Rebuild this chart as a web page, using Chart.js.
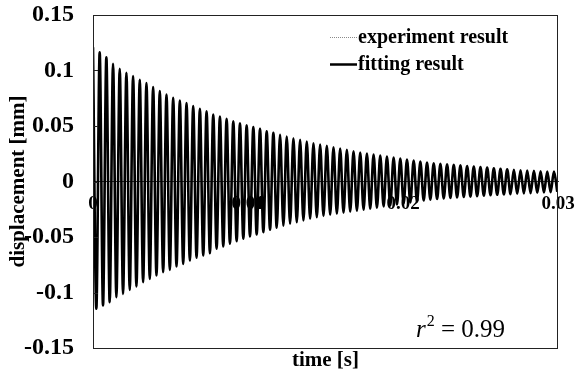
<!DOCTYPE html>
<html>
<head>
<meta charset="utf-8">
<script src="https://cdn.jsdelivr.net/npm/chart.js@4"></script>
<style>
  html, body { margin:0; padding:0; background:#ffffff; }
</style>
</head>
<body>
<canvas id="vibChart" width="575" height="372"></canvas>
<script>
// =========================
// DATA
// =========================
// positive peak of each cycle [mm]
const peakHigh = [
  0.121, 0.1165, 0.112, 0.106, 0.1015, 0.098, 0.095, 0.0916, 0.0886, 0.085,
  0.0814, 0.0784, 0.0754, 0.073, 0.0706, 0.068, 0.0655, 0.0633, 0.0604, 0.0586,
  0.0565, 0.0543, 0.0525, 0.0507, 0.049, 0.0475, 0.0453, 0.0439, 0.0421, 0.0405,
  0.039, 0.0376, 0.036, 0.0345, 0.0333, 0.0322, 0.0309, 0.0297, 0.0286, 0.0273,
  0.0261, 0.0252, 0.0243, 0.0234, 0.0225, 0.0216, 0.0207, 0.0198, 0.0189, 0.018,
  0.0171, 0.0165, 0.016, 0.0155, 0.015, 0.0145, 0.014, 0.0135, 0.013, 0.0125,
  0.012, 0.0115, 0.011, 0.0105, 0.0102, 0.0099, 0.0096, 0.0093, 0.009, 0.009
];
// negative peak of each cycle [mm]
const peakLow = [
  -0.1147, -0.1117, -0.1087, -0.1042, -0.1012, -0.0976, -0.0946, -0.0907, -0.0877, -0.0847,
  -0.0817, -0.0796, -0.0766, -0.0742, -0.0712, -0.0687, -0.0667, -0.0646, -0.0606, -0.0586,
  -0.0561, -0.0538, -0.0516, -0.0495, -0.0477, -0.0457, -0.0435, -0.0417, -0.0399, -0.0381,
  -0.0367, -0.0351, -0.0336, -0.0322, -0.031, -0.03, -0.029, -0.0281, -0.0272, -0.0263,
  -0.0254, -0.0245, -0.0236, -0.0225, -0.0216, -0.0207, -0.0198, -0.0189, -0.018, -0.0171,
  -0.0164, -0.0158, -0.0153, -0.0148, -0.0144, -0.014, -0.0136, -0.0132, -0.0128, -0.0124,
  -0.012, -0.0117, -0.0114, -0.0111, -0.0108, -0.0105, -0.0102, -0.0099, -0.0096, -0.0093
];
// oscillation period measured from the peak spacing [s]
const period = 0.000431;

const xTicks = [0, 0.01, 0.02, 0.03];
const yTicks = [-0.15, -0.1, -0.05, 0, 0.05, 0.1, 0.15];
const rSquared = '0.99';

// peaks at the start of each cycle, troughs half a period later
function buildSeries(hi, lo) {
  const pts = [];
  hi.forEach((v, k) => {
    pts.push({ x: k * period, y: v });
    pts.push({ x: (k + 0.5) * period, y: lo[k] });
  });
  return pts;
}

// =========================
// GLOBAL STYLE
// =========================
Chart.defaults.font.family = "'Liberation Serif', 'Times New Roman', serif";
Chart.defaults.color = '#000000';

const FONT_XTICK = { size: 19, weight: 'bold' };
const FONT_YTICK = { size: 24, weight: 'bold' };
const FONT_TITLE = { size: 21, weight: 'bold', lineHeight: 1 };
const fmt = v => String(Math.round(v * 100) / 100);

// frame round the plot + inward ticks on the left axis
const framePlugin = {
  id: 'frame',
  afterDraw(chart) {
    const { ctx, chartArea: a, scales } = chart;
    ctx.save();
    ctx.strokeStyle = '#222';
    ctx.lineWidth = 1;
    ctx.strokeRect(Math.round(a.left) + 0.5, Math.round(a.top) + 0.5,
                   Math.round(a.width) - 1, Math.round(a.height));
    scales.y.ticks.forEach(t => {
      const py = Math.round(scales.y.getPixelForValue(t.value)) + 0.5;
      ctx.beginPath();
      ctx.moveTo(a.left, py);
      ctx.lineTo(a.left + 5, py);
      ctx.stroke();
    });
    ctx.restore();
  }
};

// legend in the top right corner + r^2 note
const notePlugin = {
  id: 'notes',
  afterDraw(chart) {
    const { ctx, chartArea: a } = chart;
    const ds = chart.data.datasets;
    ctx.save();
    ctx.font = 'bold 20px "Liberation Serif"';
    ctx.textBaseline = 'middle';
    ctx.fillStyle = '#000';
    const rows = [a.top + 22, a.top + 49];
    ds.forEach((d, i) => {
      const y = rows[i];
      ctx.beginPath();
      ctx.strokeStyle = d.borderColor;
      ctx.lineWidth = i === 0 ? 1 : 2.5;
      ctx.setLineDash(i === 0 ? [1, 1] : []);
      ctx.moveTo(a.left + 237, y + 0.5);
      ctx.lineTo(a.left + 264, y + 0.5);
      ctx.stroke();
      ctx.setLineDash([]);
      ctx.fillText(d.label, a.left + 265, y + 1);
    });

    // r^2 = 0.99
    const bx = a.left + 323, by = a.bottom - 11;
    ctx.textBaseline = 'alphabetic';
    ctx.font = 'italic 25px "Liberation Serif"';
    ctx.fillText('r', bx, by);
    let x = bx + ctx.measureText('r').width + 1;
    ctx.font = '16px "Liberation Serif"';
    ctx.fillText('2', x, by - 11);
    x += ctx.measureText('2').width;
    ctx.font = '25px "Liberation Serif"';
    ctx.fillText(' = ' + rSquared, x, by);
    ctx.restore();
  }
};

// =========================
// DAMPED VIBRATION
// =========================
const vibCtx = document.getElementById('vibChart');

new Chart(vibCtx, {
  type: 'line',
  data: {
    datasets: [
      {
        label: 'experiment result',
        data: buildSeries(peakHigh, peakLow),
        borderColor: '#8a8a8a',
        borderWidth: 1,
        pointRadius: 0,
        cubicInterpolationMode: 'monotone',
        order: 1
      },
      {
        label: 'fitting result',
        data: buildSeries(peakHigh, peakLow),
        borderColor: '#000000',
        borderWidth: 2.6,
        pointRadius: 0,
        cubicInterpolationMode: 'monotone',
        order: 0
      }
    ]
  },
  options: {
    responsive: false,
    animation: false,
    events: [],
    layout: { padding: { left: 5, top: 15, right: 17, bottom: 0 } },
    plugins: {
      legend: { display: false },
      tooltip: { enabled: false }
    },
    scales: {
      x: {
        type: 'linear',
        position: { y: 0 },
        min: 0,
        max: 0.03,
        afterBuildTicks: s => { s.ticks = xTicks.map(v => ({ value: v })); },
        afterFit: s => { s.height = 0; s.paddingLeft = 0; s.paddingRight = 0; },
        grid: { display: false, drawTicks: false },
        border: { display: true, color: '#333', width: 1 },
        ticks: { font: FONT_XTICK, padding: 11, maxRotation: 0, autoSkip: false, callback: fmt }
      },
      xTitle: {
        type: 'linear',
        axis: 'x',
        position: 'bottom',
        min: 0,
        max: 0.03,
        afterFit: s => { s.height = 24; s.paddingLeft = 0; s.paddingRight = 0; },
        grid: { display: false, drawTicks: false },
        border: { display: false },
        ticks: { display: false },
        title: { display: true, text: 'time [s]', font: FONT_TITLE, padding: { top: 0, bottom: 1 } }
      },
      y: {
        min: -0.15,
        max: 0.15,
        afterBuildTicks: s => { s.ticks = yTicks.map(v => ({ value: v })); },
        afterFit: s => { s.width = 88; s.paddingTop = 0; s.paddingBottom = 0; },
        grid: { display: false, drawTicks: false },
        border: { display: false },
        ticks: { font: FONT_YTICK, padding: 19, callback: fmt },
        title: { display: true, text: 'displacement [mm]', font: FONT_TITLE, padding: { top: 3, bottom: 0 } }
      }
    }
  },
  plugins: [framePlugin, notePlugin]
});
</script>
</body>
</html>
